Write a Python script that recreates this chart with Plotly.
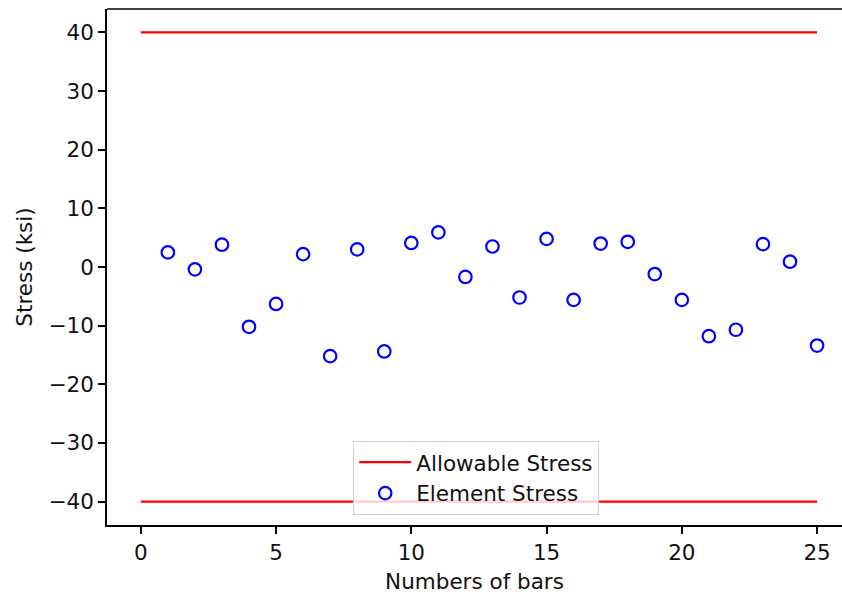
import plotly.graph_objects as go

# Element stresses of the 25-bar truss (ksi)
bar_numbers = list(range(1, 26))
element_stress = [2.5, -0.4, 3.8, -10.2, -6.3, 2.2, -15.2, 3.0, -14.4, 4.1,
                  5.9, -1.7, 3.5, -5.2, 4.8, -5.6, 4.0, 4.3, -1.2, -5.6,
                  -11.8, -10.7, 3.9, 0.9, -13.4]

# Allowable stress limit (ksi), drawn across bars 0..25
allowable_stress = 40
limit_x = [0, 25]

FONT = dict(family="DejaVu Sans", size=21.5, color="#111111")

fig = go.Figure()

fig.add_trace(go.Scatter(
    x=limit_x + [None] + limit_x,
    y=[allowable_stress] * 2 + [None] + [-allowable_stress] * 2,
    mode="lines",
    line=dict(color="red", width=2.2),
    name="Allowable Stress",
    connectgaps=False,
))

fig.add_trace(go.Scatter(
    x=bar_numbers,
    y=element_stress,
    mode="markers",
    marker=dict(symbol="circle-open", size=12.5, color="blue",
                line=dict(color="blue", width=2.2)),
    name="Element Stress",
))

fig.update_layout(
    width=842,
    height=596,
    margin=dict(l=107, r=0, t=9, b=71),
    paper_bgcolor="white",
    plot_bgcolor="white",
    font=FONT,
    showlegend=True,
    legend=dict(
        x=0.335, xanchor="left",
        y=0.02, yanchor="bottom",
        bgcolor="rgba(255,255,255,0.8)",
        bordercolor="#d0d0d0",
        borderwidth=1,
        font=FONT,
        itemwidth=52,
    ),
    xaxis=dict(
        range=[-1.25, -1.25 + 735 / 27.05],
        tickvals=[0, 5, 10, 15, 20, 25],
        showgrid=False,
        zeroline=False,
        showline=True,
        linecolor="black",
        linewidth=1.5,
        ticks="outside",
        ticklen=7,
        tickwidth=1.5,
        tickcolor="black",
        tickfont=FONT,
        title=dict(text="Numbers of bars", font=FONT, standoff=10),
    ),
    yaxis=dict(
        range=[-44, 44],
        tickvals=[-40, -30, -20, -10, 0, 10, 20, 30, 40],
        showgrid=False,
        zeroline=False,
        showline=True,
        linecolor="black",
        linewidth=1.5,
        ticks="outside",
        ticklen=7,
        tickwidth=1.5,
        tickcolor="black",
        tickfont=FONT,
        title=dict(text="Stress (ksi)", font=FONT, standoff=10),
    ),
    shapes=[dict(type="line", xref="paper", yref="paper",
                 x0=0, x1=1, y0=1, y1=1,
                 line=dict(color="black", width=1.5))],
)

fig.write_html("out.html")
